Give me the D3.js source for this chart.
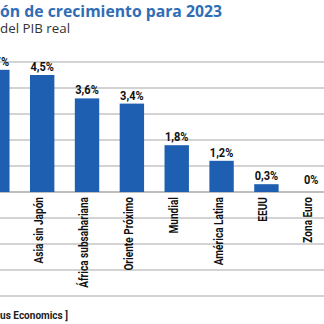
<!DOCTYPE html>
<html>
<head>
<meta charset="utf-8">
<title>Previsión de crecimiento para 2023</title>
<script src="https://cdn.jsdelivr.net/npm/d3@7"></script>
<style>
body { margin:0; padding:0; background:#fff; }
</style>
</head>
<body>
<script>
// datos
var regiones = ["China", "Asia sin Japón", "África subsahariana", "Oriente Próximo", "Mundial", "América Latina", "EEUU", "Zona Euro"];
var crecimiento = [4.7, 4.5, 3.6, 3.4, 1.8, 1.2, 0.3, 0];
var ticks = [-4, -3, -2, -1, 0, 1, 2, 3, 4, 5];

var width = 324;
var height = 324;

var svg = d3.select("body")
	.append("svg")
	.attr("width", width)
	.attr("height", height);

svg.append("rect")
	.attr("width", width)
	.attr("height", height)
	.attr("fill", "#fff");

// escalas
var y = d3.scaleLinear().domain([-4, 5]).range([296, 62]);
var x = d3.scaleBand()
	.domain(regiones)
	.range([-25.1, 333.7])
	.paddingInner(0.456)
	.paddingOuter(0.228);

// rejilla
svg.append("g").selectAll("line")
	.data(ticks)
	.enter().append("line")
	.attr("x1", 0)
	.attr("x2", width)
	.attr("y1", function(d){ return y(d); })
	.attr("y2", function(d){ return y(d); })
	.style("stroke", function(d){ return d == 0 ? "#a9a9a9" : "#c4c4c4"; })
	.style("stroke-width", 1.5);

// barras
svg.append("g").selectAll("rect")
	.data(crecimiento)
	.enter().append("rect")
	.attr("x", function(d, i){ return x(regiones[i]); })
	.attr("width", x.bandwidth())
	.attr("y", function(d){ return y(d); })
	.attr("height", function(d){ return y(0) - y(d); })
	.attr("fill", "#1f5fb1");

// valores (letra estrecha)
svg.append("g").selectAll("text")
	.data(crecimiento)
	.enter().append("text")
	.attr("transform", function(d, i){ return "translate(" + (x(regiones[i]) + x.bandwidth()/2) + "," + (y(d) - (d == 0 ? 8 : 4)) + ") scale(0.92,1)"; })
	.attr("text-anchor", "middle")
	.style("font-family", "Roboto, sans-serif")
	.style("font-weight", "bold")
	.style("font-size", "12px")
	.style("fill", "#111")
	.text(function(d){ return String(d).replace(".", ",") + "%"; });

// nombres de regiones
svg.append("g").selectAll("text")
	.data(regiones)
	.enter().append("text")
	.attr("transform", function(d){ return "translate(" + (x(d) + x.bandwidth()/2 + 1) + "," + (y(0) + 5) + ") rotate(-90) scale(0.84,1)"; })
	.attr("text-anchor", "end")
	.style("font-family", "Roboto, sans-serif")
	.style("font-weight", "bold")
	.style("font-size", "12px")
	.style("fill", "#111")
	.text(function(d){ return d; });

// ajusta el tamaño para que la cola visible del texto mida "ancho"
function ajustar(t, cola, ancho){
	var node = t.node();
	var txt = node.textContent;
	var size = parseFloat(t.style("font-size"));
	var len = node.getSubStringLength(txt.length - cola.length, cola.length);
	t.style("font-size", (size * ancho / len) + "px");
}

// titulos
var titulo = svg.append("text")
	.attr("x", 222)
	.attr("y", 17)
	.attr("text-anchor", "end")
	.style("font-family", "'Open Sans', sans-serif")
	.style("font-weight", "bold")
	.style("font-size", "16px")
	.style("fill", "#2f6db6")
	.text("Previsión de crecimiento para 2023");
ajustar(titulo, "ón de crecimiento para 2023", 222);

var subtitulo = svg.append("text")
	.attr("x", 70)
	.attr("y", 33)
	.attr("text-anchor", "end")
	.style("font-family", "'Open Sans', sans-serif")
	.style("font-size", "13px")
	.style("fill", "#333")
	.text("Variación del PIB real");
ajustar(subtitulo, "del PIB real", 70);

var fuente = svg.append("text")
	.attr("x", 68)
	.attr("y", 319)
	.attr("text-anchor", "end")
	.style("font-family", "Roboto, sans-serif")
	.style("font-weight", "bold")
	.style("font-size", "10px")
	.style("fill", "#222")
	.text("[ Fuente: Focus Economics ]");
ajustar(fuente, "us Economics ]", 68);
</script>
</body>
</html>
